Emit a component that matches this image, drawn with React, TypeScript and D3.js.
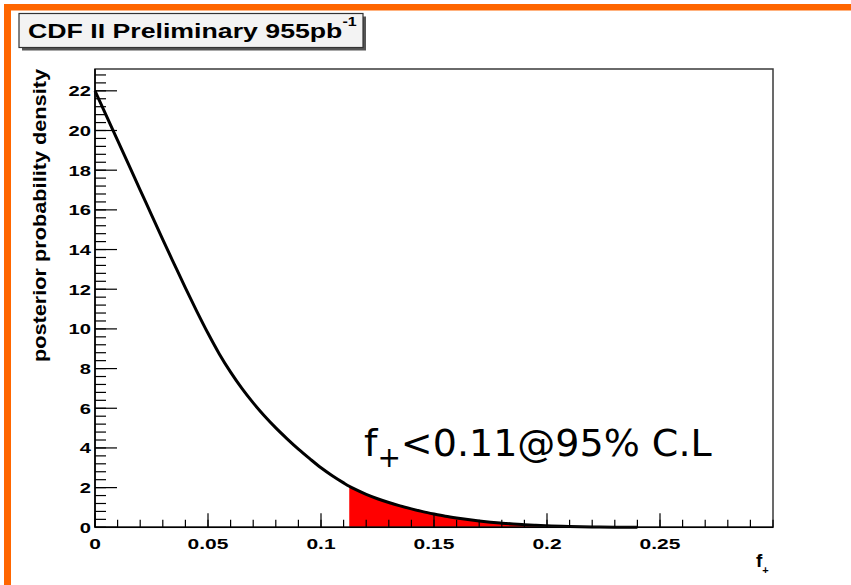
import React from "react";
import * as d3 from "d3";

// ---- data ----
const fValues = [0, 0.005, 0.01, 0.015, 0.02, 0.025, 0.03, 0.035, 0.04, 0.045, 0.05, 0.055, 0.06, 0.065, 0.07, 0.075, 0.08, 0.085, 0.09, 0.095, 0.1, 0.105, 0.11, 0.1125, 0.115, 0.12, 0.125, 0.13, 0.135, 0.14, 0.145, 0.15, 0.155, 0.16, 0.165, 0.17, 0.175, 0.18, 0.185, 0.19, 0.195, 0.2, 0.21, 0.22, 0.23, 0.24];
const density = [22.0, 20.75, 19.5, 18.25, 17.0, 15.75, 14.5, 13.28, 12.07, 10.9, 9.78, 8.74, 7.82, 7.0, 6.27, 5.61, 5.01, 4.46, 3.94, 3.46, 3.0, 2.6, 2.24, 2.07, 1.92, 1.66, 1.44, 1.25, 1.08, 0.93, 0.79, 0.67, 0.56, 0.47, 0.39, 0.32, 0.26, 0.21, 0.165, 0.13, 0.1, 0.075, 0.042, 0.02, 0.008, 0];
const fillStart = 0.1125;
const fillEnd = 0.2;
const xDomain = [0, 0.3];
const yDomain = [0, 23.1];
const xTickValues = [0, 0.05, 0.1, 0.15, 0.2, 0.25];
const xTickLabels = ["0", "0.05", "0.1", "0.15", "0.2", "0.25"];
const yTickValues = [0, 2, 4, 6, 8, 10, 12, 14, 16, 18, 20, 22];
const yTickLabels = ["0", "2", "4", "6", "8", "10", "12", "14", "16", "18", "20", "22"];
const xMinorStep = 0.01;
const yMinorStep = 0.4;
const titleText = "CDF II Preliminary 955pb";
const titleSup = "-1";
const yAxisTitle = "posterior probability density";
const annotationMain = "<0.11@95% C.L";

const W = 851;
const H = 585;
const plot = { left: 95, right: 773, top: 69, bottom: 527.3 };

export default function App() {
  const x = d3.scaleLinear().domain(xDomain).range([plot.left, plot.right]);
  const y = d3.scaleLinear().domain(yDomain).range([plot.bottom, plot.top]);
  const pts = fValues.map((f, i) => ({ f, d: density[i] }));
  const line = d3
    .line<{ f: number; d: number }>()
    .x((p) => x(p.f))
    .y((p) => y(p.d))
    .curve(d3.curveMonotoneX);
  const area = d3
    .area<{ f: number; d: number }>()
    .x((p) => x(p.f))
    .y0(y(0))
    .y1((p) => y(p.d))
    .curve(d3.curveMonotoneX);
  const fillPts = pts.filter((p) => p.f >= fillStart && p.f <= fillEnd);

  const xMinor = d3.range(0, xDomain[1] + 1e-9, xMinorStep);
  const yMinor = d3.range(0, yDomain[1], yMinorStep);

  const boldFont = "'Liberation Sans', Arial, Helvetica, sans-serif";

  return (
    <svg
      width={W}
      height={H}
      style={{ position: "absolute", left: 0, top: 0, background: "#fff" }}
    >
      <rect x={0} y={0} width={W} height={H} fill="#fff" />
      {/* orange slide border */}
      <rect x={4} y={4} width={W - 4} height={6.5} fill="#FF6600" />
      <rect x={4} y={4} width={7} height={H - 4} fill="#FF6600" />

      {/* title box */}
      <rect x={22} y={16.5} width={344} height={34} fill="#555" />
      <rect x={19} y={13.5} width={344} height={34} fill="#f3f3f3" stroke="#333" strokeWidth={1.2} />
      <g transform="translate(28,38.3) scale(1.335,1)">
        <text fontFamily={boldFont} fontWeight="bold" fontSize={20} fill="#000">
          {titleText}
          <tspan fontSize={12} dy={-12}>{titleSup}</tspan>
        </text>
      </g>

      {/* red fill */}
      <path d={area(fillPts) || ""} fill="#FF0000" />
      {/* curve */}
      <path d={line(pts) || ""} fill="none" stroke="#000" strokeWidth={3} />

      {/* frame */}
      <rect
        x={plot.left}
        y={plot.top}
        width={plot.right - plot.left}
        height={plot.bottom - plot.top}
        fill="none"
        stroke="#3a3a3a"
        strokeWidth={1.5}
      />
      <line x1={plot.left} x2={plot.right} y1={plot.bottom} y2={plot.bottom} stroke="#000" strokeWidth={1.6} />
      <line x1={plot.left} x2={plot.left} y1={plot.top} y2={plot.bottom} stroke="#000" strokeWidth={1.6} />

      {/* x ticks */}
      {xMinor.map((v, i) => (
        <line key={"xm" + i} x1={x(v)} x2={x(v)} y1={plot.bottom} y2={plot.bottom - 7.5} stroke="#000" strokeWidth={1.2} />
      ))}
      {xTickValues.map((v, i) => (
        <line key={"xM" + i} x1={x(v)} x2={x(v)} y1={plot.bottom} y2={plot.bottom - 14} stroke="#000" strokeWidth={1.2} />
      ))}
      {xTickValues.map((v, i) => (
        <g key={"xl" + i} transform={`translate(${x(v)},549) scale(1.4,1)`}>
          <text textAnchor="middle" fontFamily={boldFont} fontWeight="bold" fontSize={15} fill="#000">
            {xTickLabels[i]}
          </text>
        </g>
      ))}

      {/* y ticks */}
      {yMinor.map((v, i) => (
        <line key={"ym" + i} x1={plot.left} x2={plot.left + 11} y1={y(v)} y2={y(v)} stroke="#000" strokeWidth={1.2} />
      ))}
      {yTickValues.map((v, i) => (
        <line key={"yM" + i} x1={plot.left} x2={plot.left + 22} y1={y(v)} y2={y(v)} stroke="#000" strokeWidth={1.2} />
      ))}
      {yTickValues.map((v, i) => (
        <g key={"yl" + i} transform={`translate(91,${y(v) + 5.5}) scale(1.3,1)`}>
          <text textAnchor="end" fontFamily={boldFont} fontWeight="bold" fontSize={15.5} fill="#000">
            {yTickLabels[i]}
          </text>
        </g>
      ))}

      {/* y axis title */}
      <text
        transform="translate(46,215.5) rotate(-90)"
        textAnchor="middle"
        fontFamily={boldFont}
        fontWeight="bold"
        fontSize={18}
        textLength={293}
        lengthAdjust="spacingAndGlyphs"
        fill="#000"
      >
        {yAxisTitle}
      </text>

      {/* x axis title f_+ */}
      <text x={756} y={566.5} fontFamily={boldFont} fontWeight="bold" fontSize={19} fill="#000">
        f<tspan fontSize={11} dy={7}>+</tspan>
      </text>

      {/* annotation */}
      <text x={364} y={456} fontFamily="'DejaVu Sans', Verdana, sans-serif" fontSize={38} fill="#000">
        f<tspan fontSize={28} dy={11}>+</tspan>
        <tspan fontSize={38} dy={-11}>{annotationMain}</tspan>
      </text>
    </svg>
  );
}
